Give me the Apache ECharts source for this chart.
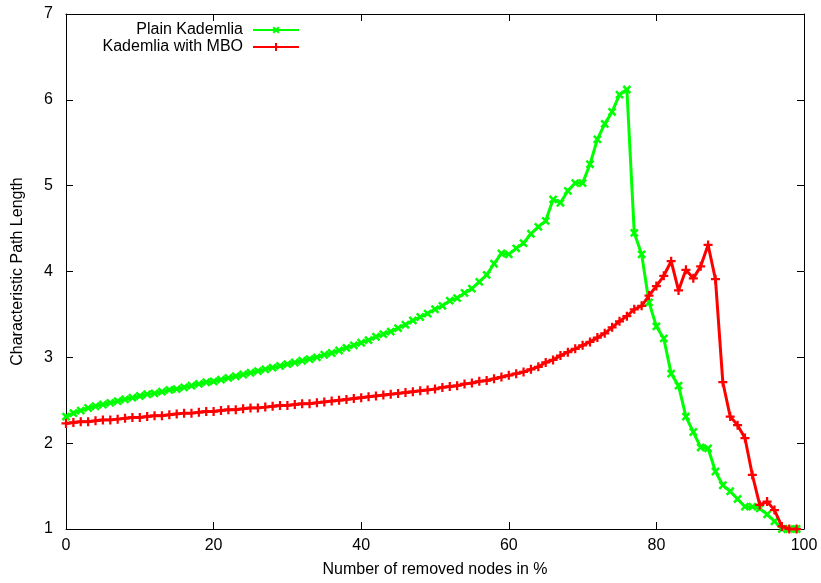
<!DOCTYPE html>
<html>
<head>
<meta charset="utf-8">
<script src="https://cdn.jsdelivr.net/npm/echarts@6/dist/echarts.min.js"></script>
<style>
html,body{margin:0;padding:0;background:#fff;}
#chart{width:821px;height:583px;}
</style>
</head>
<body>
<div id="chart"></div>
<script>
var removedPct = [0,1,2,3,4,5,6,7,8,9,10,11,12,13,14,15,16,17,18,19,20,21,22,23,24,25,26,27,28,29,30,31,32,33,34,35,36,37,38,39,40,41,42,43,44,45,46,47,48,49,50,51,52,53,54,55,56,57,58,59,60,61,62,63,64,65,66,67,68,69,70,71,72,73,74,75,76,77,78,79,80,81,82,83,84,85,86,87,88,89,90,91,92,93,94,95,96,97,98,99];

var plainKademlia = [2.31,2.35,2.38,2.41,2.43,2.45,2.47,2.49,2.51,2.53,
  2.55,2.57,2.58,2.60,2.62,2.63,2.65,2.67,2.69,2.71,
  2.72,2.74,2.76,2.78,2.80,2.82,2.84,2.86,2.88,2.90,
  2.92,2.94,2.96,2.98,3.00,3.03,3.05,3.08,3.11,3.14,
  3.17,3.20,3.24,3.27,3.30,3.34,3.38,3.43,3.47,3.51,
  3.56,3.60,3.66,3.69,3.75,3.80,3.88,3.96,4.09,4.21,
  4.20,4.27,4.33,4.44,4.52,4.59,4.84,4.80,4.94,5.03,
  5.03,5.25,5.54,5.72,5.86,6.06,6.12,4.45,4.20,3.64,
  3.36,3.22,2.81,2.67,2.31,2.13,1.95,1.94,1.67,1.51,
  1.44,1.35,1.26,1.26,1.24,1.17,1.09,1.00,1.00,1.00];

var kademliaMBO = [2.23,2.24,2.25,2.25,2.26,2.27,2.27,2.28,2.29,2.30,
  2.30,2.31,2.32,2.32,2.33,2.34,2.35,2.35,2.36,2.37,
  2.37,2.38,2.39,2.39,2.40,2.41,2.41,2.42,2.43,2.44,
  2.44,2.45,2.46,2.46,2.47,2.48,2.49,2.50,2.51,2.52,
  2.53,2.54,2.55,2.56,2.57,2.58,2.59,2.60,2.61,2.62,
  2.63,2.65,2.66,2.67,2.69,2.70,2.72,2.73,2.75,2.77,
  2.79,2.81,2.83,2.86,2.89,2.94,2.97,3.02,3.06,3.10,
  3.14,3.18,3.23,3.28,3.35,3.42,3.48,3.56,3.60,3.72,
  3.83,3.95,4.12,3.78,4.02,3.92,4.06,4.31,3.91,2.71,
  2.31,2.21,2.06,1.63,1.28,1.32,1.22,1.03,1.00,1.00];

var seriesNames = ['Plain Kademlia', 'Kademlia with MBO'];
var xTicks = [0, 20, 40, 60, 80, 100];
var yTicks = [1, 2, 3, 4, 5, 6, 7];

function pairs(ys) { return removedPct.map(function (x, i) { return [x, ys[i]]; }); }

var FONT = 'Liberation Sans, Arial, Helvetica, sans-serif';
var FS = 16;
var PLUS = 'path://M3,0H5V3H8V5H5V8H3V5H0V3H3Z';

var chart = echarts.init(document.getElementById('chart'), null, {renderer: 'canvas'});
var axisTickStyle = {show: true, inside: true, length: 7, lineStyle: {color: '#000', width: 1}};
var legendText = {fontFamily: FONT, fontSize: FS, color: '#000', padding: [0, 5, 0, 0]};
chart.setOption({
  animation: false,
  backgroundColor: '#fff',
  grid: {left: 66, right: 17, top: 14, bottom: 52, containLabel: false},
  legend: [
    {data: [seriesNames[0]], orient: 'vertical', align: 'right', right: 521, top: 22, padding: 0,
     itemWidth: 46, itemHeight: 10, textStyle: legendText},
    {data: [seriesNames[1]], orient: 'vertical', align: 'right', right: 521, top: 39, padding: 0,
     itemWidth: 46, itemHeight: 10, textStyle: legendText}
  ],
  xAxis: [
    {type: 'value', position: 'bottom', min: xTicks[0], max: xTicks[xTicks.length - 1], interval: 20,
     name: 'Number of removed nodes in %', nameLocation: 'middle', nameGap: 33,
     nameTextStyle: {fontFamily: FONT, fontSize: FS, color: '#000'},
     axisLine: {show: true, onZero: false, lineStyle: {color: '#000', width: 1}},
     axisTick: axisTickStyle, splitLine: {show: false},
     axisLabel: {fontFamily: FONT, fontSize: FS, color: '#000', margin: 9}},
    {type: 'value', position: 'top', min: xTicks[0], max: xTicks[xTicks.length - 1], interval: 20,
     axisLine: {show: true, onZero: false, lineStyle: {color: '#000', width: 1}},
     axisTick: axisTickStyle, splitLine: {show: false}, axisLabel: {show: false}}
  ],
  yAxis: [
    {type: 'value', position: 'left', min: yTicks[0], max: yTicks[yTicks.length - 1], interval: 1,
     name: 'Characteristic Path Length', nameLocation: 'middle', nameGap: 40,
     nameTextStyle: {fontFamily: FONT, fontSize: FS, color: '#000'},
     axisLine: {show: true, onZero: false, lineStyle: {color: '#000', width: 1}},
     axisTick: axisTickStyle, splitLine: {show: false},
     axisLabel: {fontFamily: FONT, fontSize: FS, color: '#000', margin: 13}},
    {type: 'value', position: 'right', min: yTicks[0], max: yTicks[yTicks.length - 1], interval: 1,
     axisLine: {show: true, onZero: false, lineStyle: {color: '#000', width: 1}},
     axisTick: axisTickStyle, splitLine: {show: false}, axisLabel: {show: false}}
  ],
  series: [
    {name: seriesNames[0], type: 'line', data: pairs(plainKademlia),
     symbol: PLUS, symbolRotate: 45, symbolSize: 10, showAllSymbol: true,
     lineStyle: {color: '#00ff00', width: 3}, itemStyle: {color: '#00ff00'}, z: 3},
    {name: seriesNames[1], type: 'line', data: pairs(kademliaMBO),
     symbol: PLUS, symbolSize: 9, showAllSymbol: true,
     lineStyle: {color: '#ff0000', width: 3}, itemStyle: {color: '#ff0000'}, z: 4}
  ]
});
</script>
</body>
</html>
